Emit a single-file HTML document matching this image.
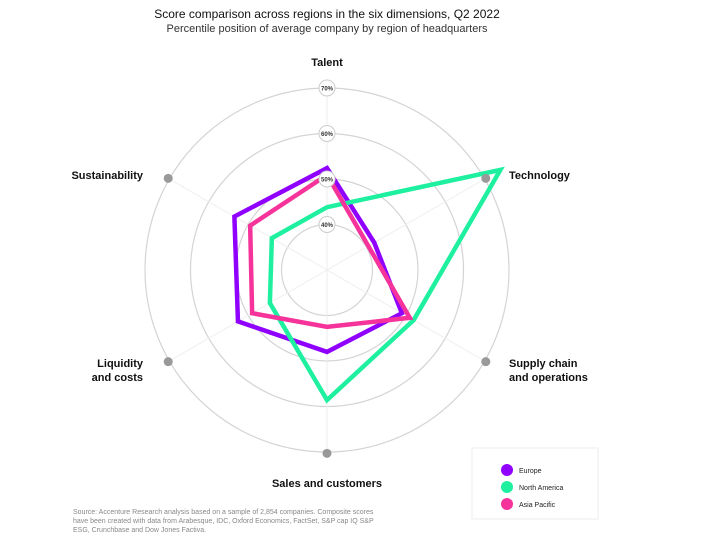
<!DOCTYPE html>
<html><head><meta charset="utf-8"><style>
body{margin:0;background:#fff;font-family:"Liberation Sans",sans-serif}
</style></head><body>
<svg width="728" height="544" viewBox="0 0 728 544">
<text x="327" y="18" text-anchor="middle" font-size="12" fill="#111">Score comparison across regions in the six dimensions, Q2 2022</text>
<text x="327" y="32" text-anchor="middle" font-size="11" fill="#333">Percentile position of average company by region of headquarters</text>
<g id="grid"></g><g id="series"></g><g id="ringlabels"></g><g id="labels"></g>
<rect x="472" y="448" width="126" height="71" fill="#fff" stroke="#eee"/>
<g><circle cx="507" cy="470" r="6" fill="#8f00ff"/><text x="519" y="473" font-size="7" fill="#222">Europe</text></g>
<g><circle cx="507" cy="487" r="6" fill="#1ef0a0"/><text x="519" y="490" font-size="7" fill="#222">North America</text></g>
<g><circle cx="507" cy="504" r="6" fill="#f5339a"/><text x="519" y="507" font-size="7" fill="#222">Asia Pacific</text></g>
<g font-size="7" fill="#888">
<text x="73" y="514">Source: Accenture Research analysis based on a sample of 2,854 companies. Composite scores</text>
<text x="73" y="523">have been created with data from Arabesque, IDC, Oxford Economics, FactSet, S&amp;P cap IQ S&amp;P</text>
<text x="73" y="532">ESG, Crunchbase and Dow Jones Factiva.</text>
</g>
</svg>
<script>
const categories=["Talent","Technology","Supply chain and operations","Sales and customers","Liquidity and costs","Sustainability"];
const europe=[52.4,42,49,48,52.6,53.5];
const northAmerica=[43.8,74,52,58.6,44.5,44];
const asiaPacific=[50.9,40.5,51,42.5,49,49.5];
const ringTicks=[40,50,60,70];
const NS="http://www.w3.org/2000/svg";
const cx=327,cy=270,vMin=30,scale=4.55;
function r(v){return (v-vMin)*scale;}
function ang(i){return -Math.PI/2+i*Math.PI/3;}
function pt(i,v){return [cx+r(v)*Math.cos(ang(i)),cy+r(v)*Math.sin(ang(i))];}
function mk(tag,attrs,parent){const e=document.createElementNS(NS,tag);for(const k in attrs)e.setAttribute(k,attrs[k]);parent.appendChild(e);return e;}
const grid=document.getElementById('grid');
ringTicks.forEach(t=>{
 const c=mk('circle',{cx:cx,cy:cy,r:r(t),fill:'none',stroke:'#d4d4d4','stroke-width':1.2},grid);
 
 
});
categories.forEach((c,i)=>{
 const p=pt(i,70);
 const l=mk('line',{x1:cx,y1:cy,x2:p[0],y2:p[1],stroke:'#eee','stroke-width':1},grid);
 
 
});
const ser=document.getElementById('series');
[[europe,'#8f00ff','europe'],[northAmerica,'#1ef0a0','north-america'],[asiaPacific,'#f5339a','asia-pacific']].forEach(([d,col,n])=>{
 const pts=d.map((v,i)=>pt(i,v).join(',')).join(' ');
 const p=mk('polygon',{points:pts,fill:'none',stroke:col,'stroke-width':4.5,'stroke-linejoin':'miter'},ser);
 
 
});
const rl=document.getElementById('ringlabels');
ringTicks.forEach(t=>{
 const g=mk('g',{},rl);
 
 
 mk('circle',{cx:cx,cy:cy-r(t),r:8,fill:'#fff',stroke:'#ccc'},g);
 const tx=mk('text',{x:cx,y:cy-r(t)+2.5,'text-anchor':'middle','font-size':6,'font-weight':'bold',fill:'#333'},g);
 tx.textContent=t+'%';
});
const lab=document.getElementById('labels');
const labelLines=[["Talent"],["Technology"],["Supply chain","and operations"],["Sales and customers"],["Liquidity","and costs"],["Sustainability"]];
const labelPos=[[327,66,'middle'],[509,179,'start'],[509,367,'start'],[327,487,'middle'],[143,367,'end'],[143,179,'end']];
categories.forEach((c,i)=>{
 if(i>0){
  const p=pt(i,70.3);
  const d=mk('circle',{cx:p[0],cy:p[1],r:4.5,fill:'#999'},lab);
  
  
 }
 const [x,y,a]=labelPos[i];
 const t=mk('text',{x:x,y:y,'text-anchor':a,'font-size':11,'font-weight':'bold',fill:'#111'},lab);
 
 
 labelLines[i].forEach((s,k)=>{const ts=mk('tspan',{x:x,dy:k?14:0},t);ts.textContent=s;});
});
</script>
</body></html>
